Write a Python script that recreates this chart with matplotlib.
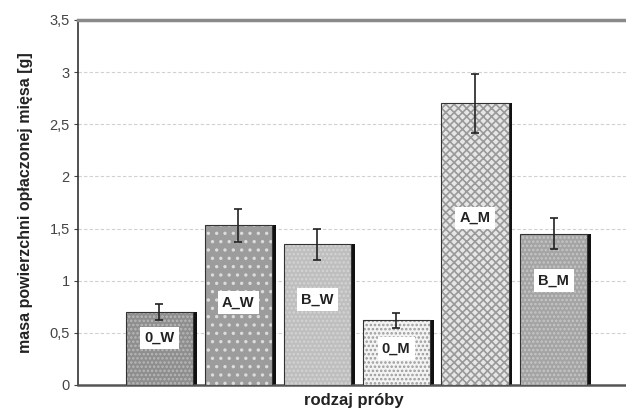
import matplotlib
matplotlib.use("Agg")
import matplotlib.pyplot as plt
import numpy as np

samples = ["0_W", "A_W", "B_W", "0_M", "A_M", "B_M"]
means = [0.70, 1.53, 1.35, 0.62, 2.70, 1.45]
errors = [0.08, 0.16, 0.15, 0.07, 0.28, 0.15]
label_y = [0.45, 0.79, 0.82, 0.35, 1.60, 1.00]

faces = ["#8e8e8e", "#9c9c9c", "#bebebe", "#f4f4f4", "#e6e6e6", "#a4a4a4"]
hatch_cols = ["#b8b8b8", "#dcdcdc", "#d4d4d4", "#9a9a9a", "#9a9a9a", "#c6c6c6"]
hatches = ["....", "..", "....", "....", "xxxx", "...."]

plt.rcParams["hatch.linewidth"] = 1.2
plt.rcParams["font.family"] = ["Liberation Sans", "DejaVu Sans"]

fig = plt.figure(figsize=(6.26, 4.13), dpi=100)
ax = fig.add_axes([0.1246, 0.0678, 0.88, 0.8838])

x = np.arange(len(samples))
width = 0.85

# dark drop shadow on the right of each bar
ax.bar(x + 0.05, means, width=width, color="#111111", zorder=2)
for xi, m, fc, hc, h in zip(x, means, faces, hatch_cols, hatches):
    ax.bar(xi, m, width=width, color=fc, edgecolor=hc, hatch=h,
           linewidth=0, zorder=3)
    ax.bar(xi, m, width=width, fill=False, edgecolor="#333333",
           linewidth=0.8, zorder=4)

ax.errorbar(x, means, yerr=errors, fmt="none", ecolor="#222222",
            elinewidth=1.2, capsize=3, capthick=1.2, zorder=5)

for xi, ly, name in zip(x, label_y, samples):
    ax.text(xi, ly, name, ha="center", va="center", fontsize=10.5,
            fontweight="bold", color="#222222", zorder=6,
            bbox=dict(facecolor="white", edgecolor="none", pad=3))

ax.set_xlim(-1.03, 5.95)
ax.set_ylim(0, 3.5)
yt = np.arange(0, 3.51, 0.5)
ax.set_yticks(yt)
ax.set_yticklabels([f"{v:g}".replace(".", ",") for v in yt],
                   fontsize=10.5, color="#444444")
ax.set_xticks([])

for v in yt[1:-1]:
    ax.axhline(v, color="#d0d0d0", linestyle=(0, (3, 2)), linewidth=0.8,
               zorder=1)

ax.spines["right"].set_visible(False)
ax.spines["top"].set_color("#8a8a8a")
ax.spines["top"].set_linewidth(2.5)
ax.spines["left"].set_color("#333333")
ax.spines["left"].set_linewidth(1.2)
ax.spines["bottom"].set_color("#555555")
ax.spines["bottom"].set_linewidth(1.8)
ax.tick_params(axis="y", length=3, width=0.8, color="#444444", pad=3)

ax.set_ylabel("masa powierzchni opłaczonej mięsa [g]", fontsize=11.5,
              fontweight="bold", color="#222222", labelpad=12)
ax.set_xlabel("rodzaj próby", fontsize=12, fontweight="bold",
              color="#222222", labelpad=6)

plt.savefig("out.png", dpi=100)
plt.close(fig)
